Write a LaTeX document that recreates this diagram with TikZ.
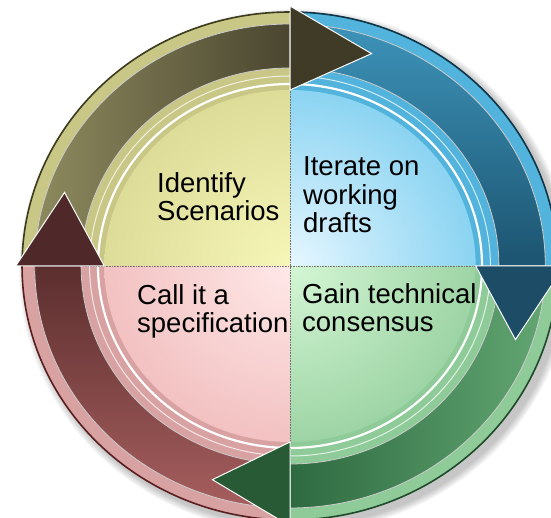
\documentclass[tikz,border=0pt]{standalone}
\usepackage{fontspec}
\setmainfont{Liberation Sans}
\usetikzlibrary{positioning}

\definecolor{oliRing}{HTML}{C9C786}
\definecolor{oliIn}{HTML}{F6F6B8}
\definecolor{oliOut}{HTML}{C4C278}
\definecolor{oliA}{HTML}{8E8A5E}
\definecolor{oliB}{HTML}{4A4630}
\definecolor{oliHead}{HTML}{3F3B27}
\definecolor{oliRim}{HTML}{3C3A1C}

\definecolor{bluRing}{HTML}{52B4DC}
\definecolor{bluIn}{HTML}{E6F7FF}
\definecolor{bluOut}{HTML}{2FB0E4}
\definecolor{bluA}{HTML}{3D93B9}
\definecolor{bluB}{HTML}{1C5470}
\definecolor{bluHead}{HTML}{1D4D66}
\definecolor{bluRim}{HTML}{0E3447}

\definecolor{grnRing}{HTML}{8ECB98}
\definecolor{grnIn}{HTML}{D4F6D4}
\definecolor{grnOut}{HTML}{66B276}
\definecolor{grnA}{HTML}{62A672}
\definecolor{grnB}{HTML}{2E6A40}
\definecolor{grnHead}{HTML}{285A35}
\definecolor{grnRim}{HTML}{1F4A2A}

\definecolor{redRing}{HTML}{D9A2A2}
\definecolor{redIn}{HTML}{FFE8E8}
\definecolor{redOut}{HTML}{E69A9A}
\definecolor{redA}{HTML}{A65E5E}
\definecolor{redB}{HTML}{5C2E2E}
\definecolor{redHead}{HTML}{4F2929}
\definecolor{redRim}{HTML}{5A1E1E}

\begin{document}
\begin{tikzpicture}[x=1pt, y=1pt,
  lbl/.style={align=left, anchor=base west, inner sep=0pt,
              font=\fontsize{27.5}{28.5}\selectfont},
  rim/.style={draw=#1, line width=1.6pt},
  wline/.style={draw=white, line width=2.2pt},
  wthin/.style={draw=white, opacity=.75, line width=1pt},
  body/.style={draw=white!80!black, line width=.8pt},
  head/.style={fill=#1, draw=white, line width=1pt},
  divider/.style={densely dotted, draw=black!55, line width=.6pt}]
\useasboundingbox (0,0) rectangle (551,518);

% soft shadow
\foreach \k in {1,...,8}
  \fill[black, opacity=0.03] (295,247) ellipse [x radius={268+\k}, y radius={254+\k}];

\begin{scope}[shift={(290,252)}, xscale=1.055]
% outer ring, one piece per quadrant
\fill[oliRing] (0,0) -- (90:254) arc[start angle=90, end angle=180, radius=254] -- cycle;
\fill[bluRing] (0,0) -- (0:254) arc[start angle=0, end angle=90, radius=254] -- cycle;
\fill[grnRing] (0,0) -- (-90:254) arc[start angle=-90, end angle=0, radius=254] -- cycle;
\fill[redRing] (0,0) -- (180:254) arc[start angle=180, end angle=270, radius=254] -- cycle;
\draw[rim=oliRim] (90:254) arc[start angle=90, end angle=180, radius=254];
\draw[rim=bluRim] (0:254) arc[start angle=0, end angle=90, radius=254];
\draw[rim=grnRim] (-90:254) arc[start angle=-90, end angle=0, radius=254];
\draw[rim=redRim] (180:254) arc[start angle=180, end angle=270, radius=254];

% inner discs
\begin{scope}
  \clip (0,0) -- (90:176) arc[start angle=90, end angle=180, radius=176] -- cycle;
  \shade[inner color=oliIn, outer color=oliOut] (0,0) circle (352);
\end{scope}
\begin{scope}
  \clip (0,0) -- (0:176) arc[start angle=0, end angle=90, radius=176] -- cycle;
  \shade[inner color=bluIn, outer color=bluOut] (0,0) circle (352);
\end{scope}
\begin{scope}
  \clip (0,0) -- (-90:176) arc[start angle=-90, end angle=0, radius=176] -- cycle;
  \shade[inner color=grnIn, outer color=grnOut] (0,0) circle (352);
\end{scope}
\begin{scope}
  \clip (0,0) -- (180:176) arc[start angle=180, end angle=270, radius=176] -- cycle;
  \shade[inner color=redIn, outer color=redOut] (0,0) circle (352);
\end{scope}

% white double lines
\draw[wline] (0:182) arc[start angle=0, end angle=360, radius=182];
\draw[wthin] (0:190) arc[start angle=0, end angle=360, radius=190];

% dividers
\draw[divider] (90:196) -- (-90:196);
\draw[divider] (180:196) -- (0:196);

% arrow bodies
\shadedraw[body, left color=oliA, right color=oliB]
  (180:242) arc[start angle=180, end angle=90, radius=242]
  -- (90:198) arc[start angle=90, end angle=180, radius=198] -- cycle;
\shadedraw[body, top color=bluA, bottom color=bluB]
  (90:242) arc[start angle=90, end angle=0, radius=242]
  -- (0:198) arc[start angle=0, end angle=90, radius=198] -- cycle;
\shadedraw[body, right color=grnA, left color=grnB]
  (0:242) arc[start angle=0, end angle=-90, radius=242]
  -- (-90:198) arc[start angle=-90, end angle=0, radius=198] -- cycle;
\shadedraw[body, bottom color=redA, top color=redB]
  (270:242) arc[start angle=270, end angle=180, radius=242]
  -- (180:198) arc[start angle=180, end angle=270, radius=198] -- cycle;

% arrow heads
\filldraw[head=oliHead] (90:260) -- (70:226) -- (90:176) -- cycle;
\filldraw[head=bluHead] (0:260) -- (-19:226) -- (0:176) -- cycle;
\filldraw[head=grnHead] (-90:260) -- (-109:226) -- (-90:176) -- cycle;
\filldraw[head=redHead] (180:260) -- (161:226) -- (180:176) -- cycle;
\end{scope}

\node[lbl] (Ident) at (157,297) {Identify\\Scenarios};
\node[lbl] (Iter)  at (303,285) {Iterate on\\working\\drafts};
\node[lbl] (Call)  at (137,185) {Call it a\\specification};
\node[lbl] (Gain)  at (302,186) {Gain technical\\consensus};
\end{tikzpicture}
\end{document}
